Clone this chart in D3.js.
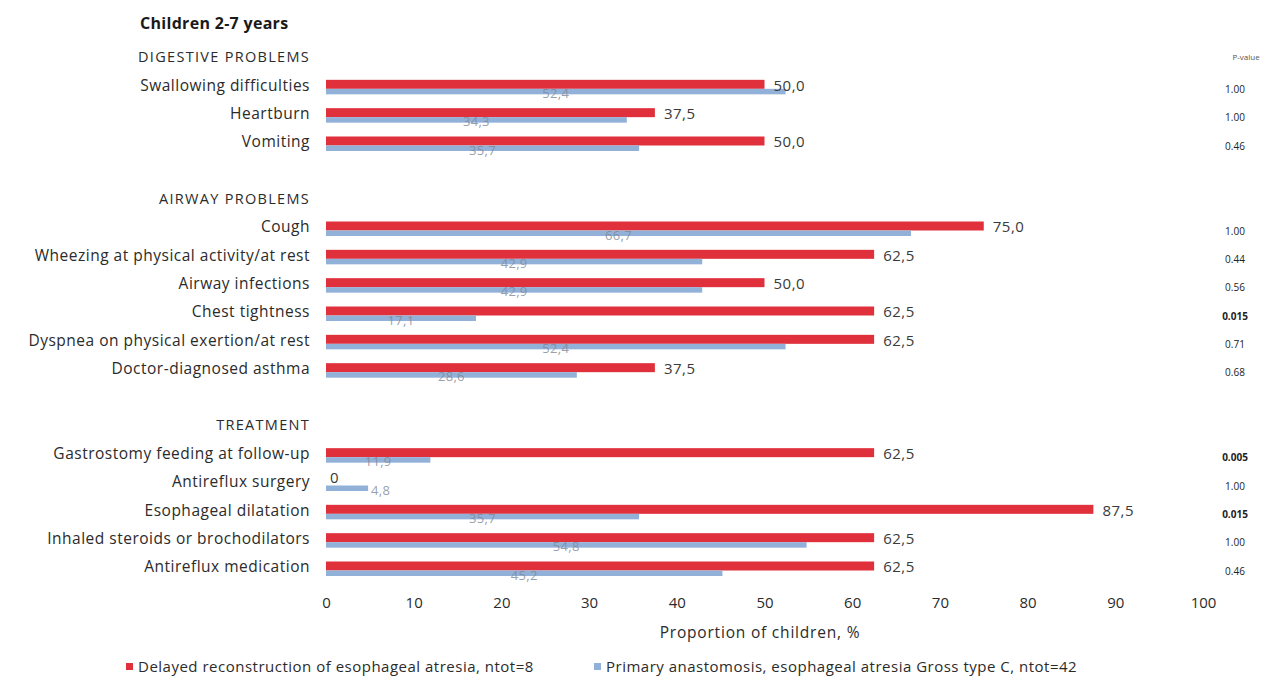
<!DOCTYPE html>
<html>
<head>
<meta charset="utf-8">
<script src="https://cdn.jsdelivr.net/npm/d3@7"></script>
<style>
  html, body { margin: 0; padding: 0; background: #fff; }
  svg { display: block; font-family: "Open Sans", Lato, sans-serif; }
</style>
</head>
<body>
<svg id="chart" width="1279" height="693"></svg>
<script>
// Row labels, top to bottom. Upper-case rows are section headers, "" are spacer rows.
const rows = [
  "DIGESTIVE PROBLEMS",
  "Swallowing difficulties",
  "Heartburn",
  "Vomiting",
  "",
  "AIRWAY PROBLEMS",
  "Cough",
  "Wheezing at physical activity/at rest",
  "Airway infections",
  "Chest tightness",
  "Dyspnea on physical exertion/at rest",
  "Doctor-diagnosed asthma",
  "",
  "TREATMENT",
  "Gastrostomy feeding at follow-up",
  "Antireflux surgery",
  "Esophageal dilatation",
  "Inhaled steroids or brochodilators",
  "Antireflux medication"
];
const headerRows = ["DIGESTIVE PROBLEMS", "AIRWAY PROBLEMS", "TREATMENT"];

// Proportion of children (%) per group
const delayed = [null, 50.0, 37.5, 50.0, null, null, 75.0, 62.5, 50.0, 62.5, 62.5, 37.5, null, null, 62.5, 0, 87.5, 62.5, 62.5];
const primary = [null, 52.4, 34.3, 35.7, null, null, 66.7, 42.9, 42.9, 17.1, 52.4, 28.6, null, null, 11.9, 4.8, 35.7, 54.8, 45.2];

// P-values between the groups
const pValues = ["", "1.00", "1.00", "0.46", "", "", "1.00", "0.44", "0.56", "0.015", "0.71", "0.68", "", "", "0.005", "1.00", "0.015", "1.00", "0.46"];

const xTicks = [0, 10, 20, 30, 40, 50, 60, 70, 80, 90, 100];

const seriesNames = [
  "Delayed reconstruction of esophageal atresia, ntot=8",
  "Primary anastomosis, esophageal atresia Gross type C, ntot=42"
];
const colors = ["#e0303c", "#92b1d8"];

const fmt = v => v === 0 ? "0" : v.toFixed(1).replace(".", ",");

const svg = d3.select("#chart");

const x = d3.scaleLinear().domain([0, 100]).range([326, 1203]);
const y = d3.scalePoint().domain(d3.range(rows.length)).range([57, 567]);

// Title
svg.append("text")
  .attr("x", 140).attr("y", 29)
  .attr("font-size", 16).attr("font-weight", 700)
  .attr("letter-spacing", 0.3).attr("fill", "#1a1a1a")
  .text("Children 2-7 years");

// Row labels
svg.append("g").selectAll("text")
  .data(rows)
  .join("text")
  .attr("x", 310)
  .attr("y", (d, i) => y(i))
  .attr("dy", "0.35em")
  .attr("text-anchor", "end")
  .attr("font-size", d => headerRows.includes(d) ? 14.5 : 15.5)
  .attr("letter-spacing", d => headerRows.includes(d) ? 1.3 : 0.5)
  .attr("fill", "#2b2b2b")
  .text(d => d);

const idx = d3.range(rows.length);

// Delayed reconstruction bars
svg.append("g").selectAll("rect")
  .data(idx.filter(i => delayed[i] !== null))
  .join("rect")
  .attr("x", x(0))
  .attr("y", i => y(i) - 5.5)
  .attr("width", i => x(delayed[i]) - x(0))
  .attr("height", 9)
  .attr("fill", colors[0]);

// Primary anastomosis bars
svg.append("g").selectAll("rect")
  .data(idx.filter(i => primary[i] !== null))
  .join("rect")
  .attr("x", x(0))
  .attr("y", i => y(i) + 3.5)
  .attr("width", i => x(primary[i]) - x(0))
  .attr("height", 5.5)
  .attr("fill", colors[1]);

// Delayed value labels, right of bar end
svg.append("g").selectAll("text")
  .data(idx.filter(i => delayed[i] !== null))
  .join("text")
  .attr("x", i => delayed[i] === 0 ? x(0) + 4 : x(delayed[i]) + 9)
  .attr("y", i => delayed[i] === 0 ? y(i) - 4 : y(i))
  .attr("dy", "0.35em")
  .attr("font-size", 15)
  .attr("letter-spacing", 0.5)
  .attr("fill", "#3a3a3a")
  .text(i => fmt(delayed[i]));

// Primary value labels, centred on the bar (outside when the bar is short)
svg.append("g").selectAll("text")
  .data(idx.filter(i => primary[i] !== null))
  .join("text")
  .attr("x", i => primary[i] < 8 ? x(primary[i]) + 3 : (x(0) + x(primary[i])) / 2)
  .attr("y", i => y(i) + 8)
  .attr("dy", "0.35em")
  .attr("text-anchor", i => primary[i] < 8 ? "start" : "middle")
  .attr("font-size", 13)
  .attr("letter-spacing", 0.3)
  .attr("fill", "#7d8795")
  .attr("fill-opacity", 0.8)
  .text(i => fmt(primary[i]));

// P-value column
svg.append("text")
  .attr("x", 1246).attr("y", 57)
  .attr("dy", "0.35em")
  .attr("text-anchor", "middle")
  .attr("font-size", 8)
  .attr("fill", "#555")
  .text("P-value");

svg.append("g").selectAll("text")
  .data(idx.filter(i => pValues[i] !== ""))
  .join("text")
  .attr("x", 1235)
  .attr("y", i => y(i) + 4)
  .attr("dy", "0.35em")
  .attr("text-anchor", "middle")
  .attr("font-size", 10)
  .attr("font-weight", i => +pValues[i] < 0.05 ? 700 : 400)
  .attr("fill", "#222")
  .text(i => pValues[i]);

// X axis (labels only)
const xAxis = d3.axisBottom(x).tickValues(xTicks).tickSize(0).tickPadding(0);
const gx = svg.append("g").attr("transform", "translate(0,597)").call(xAxis);
gx.select(".domain").remove();
gx.selectAll("text")
  .attr("font-family", "'Open Sans', sans-serif")
  .attr("font-size", 15)
  .attr("fill", "#2b2b2b");

svg.append("text")
  .attr("x", 760).attr("y", 633)
  .attr("dy", "0.35em")
  .attr("text-anchor", "middle")
  .attr("font-size", 15.5)
  .attr("letter-spacing", 0.8)
  .attr("fill", "#2b2b2b")
  .text("Proportion of children, %");

// Legend
const legendX = [126, 594];
const legend = svg.append("g").selectAll("g")
  .data(seriesNames)
  .join("g")
  .attr("transform", (d, i) => `translate(${legendX[i]},667)`);
legend.append("rect")
  .attr("x", 0).attr("y", -4)
  .attr("width", 7).attr("height", 7)
  .attr("fill", (d, i) => colors[i]);
legend.append("text")
  .attr("x", 12).attr("y", 0)
  .attr("dy", "0.35em")
  .attr("font-size", 15)
  .attr("letter-spacing", 0.5)
  .attr("fill", "#2b2b2b")
  .text(d => d);
</script>
</body>
</html>
